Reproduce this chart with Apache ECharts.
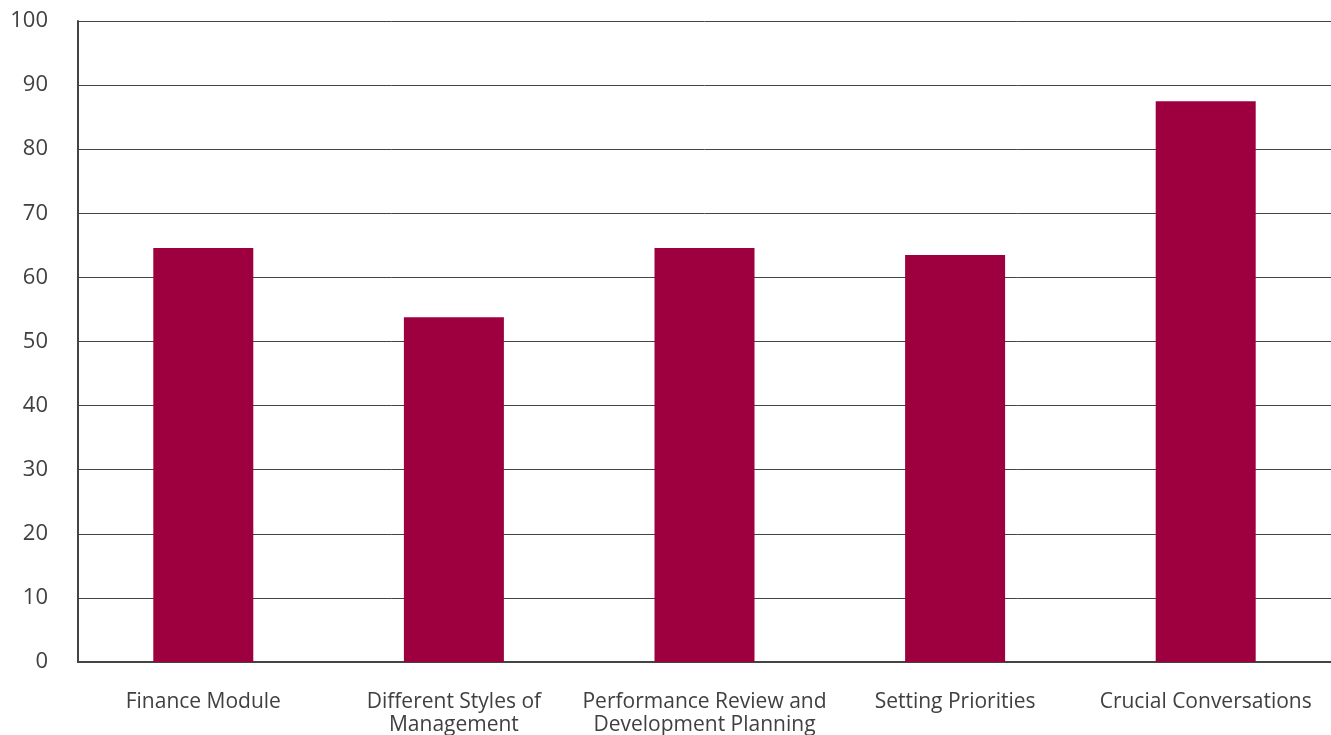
<!DOCTYPE html>
<html>
<head>
<meta charset="utf-8">
<script src="https://cdn.jsdelivr.net/npm/echarts@6/dist/echarts.min.js"></script>
<style>
  html, body { margin: 0; padding: 0; background: #fff; }
  #chart { width: 1331px; height: 735px; }
</style>
</head>
<body>
<div id="chart"></div>
<script>
var categories = [
  'Finance Module',
  'Different Styles of\nManagement',
  'Performance Review and\nDevelopment Planning',
  'Setting Priorities',
  'Crucial Conversations'
];
var values = [64.6, 53.8, 64.6, 63.5, 87.5];

var chart = echarts.init(document.getElementById('chart'));
chart.setOption({
  animation: false,
  grid: {
    left: 78,
    right: 0,
    top: 21,
    bottom: 73,
    containLabel: false,
    outerBoundsMode: 'none'
  },
  xAxis: {
    type: 'category',
    data: categories,
    axisLine: { show: true, lineStyle: { color: '#444', width: 2 } },
    axisTick: { show: false },
    axisLabel: {
      color: '#404040',
      fontFamily: 'Open Sans',
      fontSize: 21,
      lineHeight: 23,
      margin: 29,
      interval: 0
    }
  },
  yAxis: {
    type: 'value',
    min: 0,
    max: 100,
    interval: 10,
    axisLine: { show: true, lineStyle: { color: '#444', width: 2 } },
    axisTick: { show: false },
    axisLabel: {
      color: '#404040',
      fontFamily: 'Open Sans',
      fontSize: 22,
      margin: 30
    },
    splitLine: { show: true, lineStyle: { color: '#444', width: 1 } }
  },
  series: [{
    type: 'bar',
    data: values,
    barWidth: 100,
    itemStyle: { color: '#9e003f' }
  }]
});
</script>
</body>
</html>
